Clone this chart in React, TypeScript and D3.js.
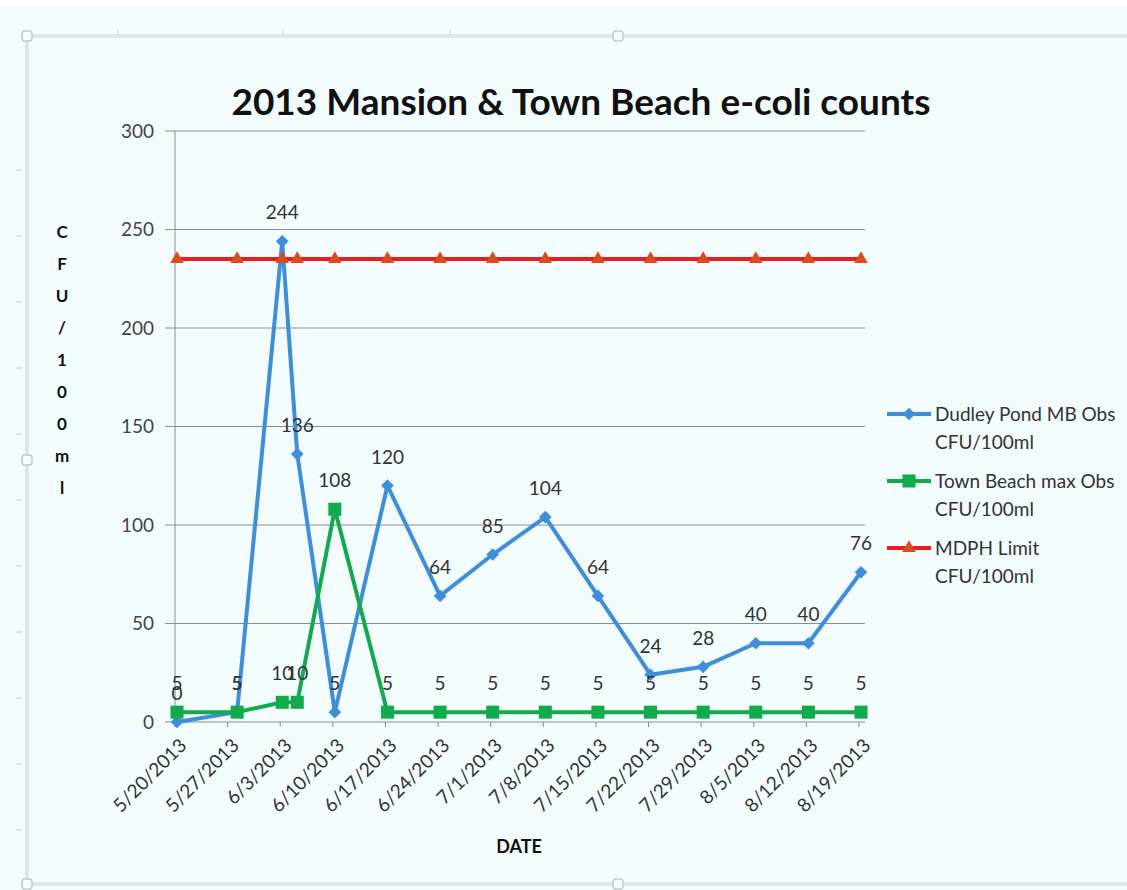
import React from 'react';
import * as d3 from 'd3';

// values
const dates = ['5/20/2013', '5/28/2013', '6/3/2013', '6/5/2013', '6/10/2013', '6/17/2013', '6/24/2013', '7/1/2013',
  '7/8/2013', '7/15/2013', '7/22/2013', '7/29/2013', '8/5/2013', '8/12/2013', '8/19/2013'];
const dudley = [0, 5, 244, 136, 5, 120, 64, 85, 104, 64, 24, 28, 40, 40, 76];
const townBeach = [5, 5, 10, 10, 108, 5, 5, 5, 5, 5, 5, 5, 5, 5, 5];
const mdph = [235, 235, 235, 235, 235, 235, 235, 235, 235, 235, 235, 235, 235, 235, 235];
const tickDates = ['5/20/2013', '5/27/2013', '6/3/2013', '6/10/2013', '6/17/2013', '6/24/2013', '7/1/2013',
  '7/8/2013', '7/15/2013', '7/22/2013', '7/29/2013', '8/5/2013', '8/12/2013', '8/19/2013'];
const yTicks = [0, 50, 100, 150, 200, 250, 300];
const yTitle = 'CFU/100ml'.split('');
const legendItems = [
  { name: 'Dudley Pond MB Obs', sub: 'CFU/100ml', color: '#3f8fd8', marker: 'diamond' },
  { name: 'Town Beach max Obs', sub: 'CFU/100ml', color: '#13a94d', marker: 'square' },
  { name: 'MDPH Limit', sub: 'CFU/100ml', color: '#ec1c1c', marker: 'triangle' },
];

const parse = d3.timeParse('%m/%d/%Y');
const font = 'Lato, "Open Sans", sans-serif';

const App = () => {
  const width = 1127, height = 890;
  const left = 175, right = 865, top = 131, bottom = 722;

  const x = d3.scaleTime()
    .domain([parse('5/20/2013')!, parse('8/19/2013')!])
    .range([177, 861]);
  const y = d3.scaleLinear().domain([0, 300]).range([bottom, top]);

  const line = d3.line<number>()
    .x((d, i) => x(parse(dates[i])!))
    .y((d) => y(d));

  // diamond = square turned by 45deg
  const diamond = d3.symbol().type(d3.symbolSquare).size(80)()!;
  const square = d3.symbol().type(d3.symbolSquare).size(170)()!;
  const triangle = d3.symbol().type(d3.symbolTriangle).size(80)()!;
  const markerPath = (m: string) => (m === 'diamond' ? diamond : m === 'square' ? square : triangle);
  const markerRot = (m: string) => (m === 'diamond' ? ' rotate(45)' : '');
  const markerFill = (m: string, c: string) => (m === 'triangle' ? '#dd4a1f' : c);

  const series = [
    { values: dudley, color: legendItems[0].color, marker: 'diamond', labels: true },
    { values: townBeach, color: legendItems[1].color, marker: 'square', labels: true },
    { values: mdph, color: legendItems[2].color, marker: 'triangle', labels: false },
  ];

  return (
    <div style={{ position: 'absolute', left: 0, top: 0 }}>
      <svg width={width} height={height} style={{ display: 'block', fontFamily: font }}>
        <rect x={0} y={0} width={width} height={height} fill="#ffffff" />
        <rect x={0} y={6} width={width} height={height - 6} fill="#f2fcfd" />
        {/* chart frame */}
        <rect x={27} y={36} width={width + 10} height={848} fill="none" stroke="#c9d3d6" strokeWidth={3} />
        <rect x={27} y={36} width={width + 10} height={848} fill="none" stroke="#f2fcfd" strokeWidth={1} />
        {[[27, 36], [618, 36], [27, 460], [27, 884], [618, 884]].map(([cx, cy], i) => (
          <rect key={i} x={cx - 5} y={cy - 5} width={10} height={10} rx={3} fill="#f2fcfd" stroke="#c2cbce" strokeWidth={1.5} />
        ))}
        {[170, 236, 302, 368, 434, 500, 566, 632, 698, 764, 830].map((ty) => (
          <line key={ty} x1={16} x2={22} y1={ty} y2={ty} stroke="#d0d8da" />
        ))}
        {[118, 283, 450].map((tx) => (
          <line key={tx} x1={tx} x2={tx} y1={30} y2={34} stroke="#d0d8da" />
        ))}

        {/* title */}
        <text x={581} y={115} textAnchor="middle" fontSize={37} fontWeight="bold" fill="#111">
          2013 Mansion &amp; Town Beach e-coli counts
        </text>

        {/* grid + y axis */}
        {yTicks.map((t) => (
          <g key={t}>
            {t > 0 && <line x1={left} x2={right} y1={y(t)} y2={y(t)} stroke="#8c8c8c" strokeWidth={1} />}
            <line x1={left - 10} x2={left} y1={y(t)} y2={y(t)} stroke="#8c8c8c" />
            <text x={left - 21} y={y(t)} dy="0.35em" textAnchor="end" fontSize={19} fill="#444">{t}</text>
          </g>
        ))}
        <line x1={left} x2={left} y1={top} y2={bottom} stroke="#8c8c8c" />
        <line x1={left} x2={right} y1={bottom} y2={bottom} stroke="#8c8c8c" />

        {/* y title, stacked letters */}
        {yTitle.map((c, i) => (
          <text key={i} x={62} y={232 + i * 32} dy="0.35em" textAnchor="middle" fontSize={17} fontWeight="bold" fill="#111">{c}</text>
        ))}

        {/* x axis */}
        {tickDates.map((d) => {
          const tx = x(parse(d)!) - 2;
          return (
            <g key={d}>
              <line x1={tx} x2={tx} y1={bottom} y2={bottom + 5} stroke="#8c8c8c" />
              <text transform={`translate(${tx + 8},${bottom + 20}) rotate(-45)`} textAnchor="end" dy="0.35em"
                fontSize={19} fill="#333">{d}</text>
            </g>
          );
        })}
        <text x={519} y={847} dy="0.35em" textAnchor="middle" fontSize={18} fontWeight="bold" fill="#111">DATE</text>

        {/* series */}
        {series.map((s, si) => (
          <g key={si}>
            <path d={line(s.values)!} fill="none" stroke={s.color} strokeWidth={4} strokeLinejoin="round" />
            {s.values.map((v, i) => (
              <path key={i} transform={`translate(${x(parse(dates[i])!)},${y(v)})${markerRot(s.marker)}`}
                d={markerPath(s.marker)} fill={markerFill(s.marker, s.color)} />
            ))}
          </g>
        ))}
        {series.filter((s) => s.labels).map((s, si) => (
          <g key={si}>
            {s.values.map((v, i) => (
              <text key={i} x={x(parse(dates[i])!)} y={y(v) - 22} textAnchor="middle" fontSize={19} fill="#333">{v}</text>
            ))}
          </g>
        ))}

        {/* legend */}
        {legendItems.map((l, i) => {
          const ly = 414 + i * 67;
          return (
            <g key={l.name}>
              <line x1={887} x2={931} y1={ly} y2={ly} stroke={l.color} strokeWidth={4} />
              <path transform={`translate(909,${ly})${markerRot(l.marker)}`} d={markerPath(l.marker)}
                fill={markerFill(l.marker, l.color)} />
              <text x={935} y={ly} dy="0.35em" fontSize={19} fill="#333">{l.name}</text>
              <text x={935} y={ly + 28} dy="0.35em" fontSize={19} fill="#333">{l.sub}</text>
            </g>
          );
        })}
      </svg>
    </div>
  );
};

export default App;
